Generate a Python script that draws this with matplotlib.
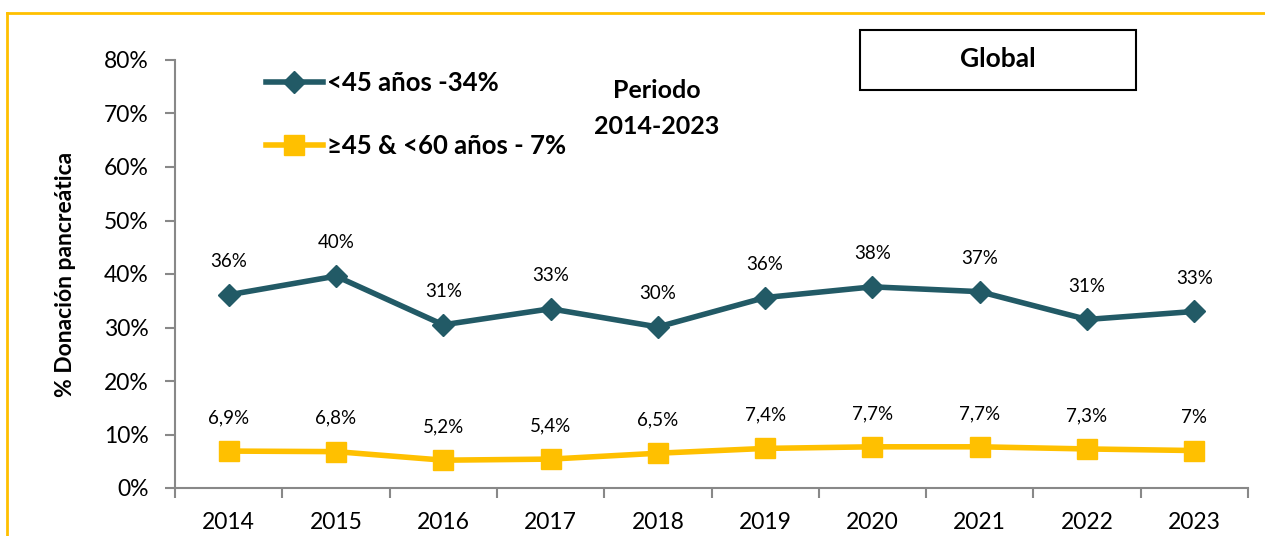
import matplotlib
matplotlib.use("Agg")
import matplotlib.pyplot as plt
from matplotlib.lines import Line2D
from matplotlib.patches import Rectangle

plt.rcParams['font.family'] = ['Lato', 'DejaVu Sans']

years = ['2014', '2015', '2016', '2017', '2018', '2019', '2020', '2021', '2022', '2023']
menor45 = [36.1, 39.6, 30.5, 33.5, 30.1, 35.6, 37.6, 36.7, 31.5, 33.0]
menor45_lbl = ['36%', '40%', '31%', '33%', '30%', '36%', '38%', '37%', '31%', '33%']
entre45_60 = [6.9, 6.8, 5.2, 5.4, 6.5, 7.4, 7.7, 7.7, 7.3, 7.0]
entre45_60_lbl = ['6,9%', '6,8%', '5,2%', '5,4%', '6,5%', '7,4%', '7,7%', '7,7%', '7,3%', '7%']
yticks = [0, 10, 20, 30, 40, 50, 60, 70, 80]

dark = '#225A66'
gold = '#FFC000'

fig = plt.figure(figsize=(12.65, 5.36), dpi=100)
ax = fig.add_axes([175/1265, 1-488/536, (1248-175)/1265, (488-60)/536])

x = list(range(len(years)))
ax.plot(x, menor45, color=dark, lw=4, marker='D', ms=11, solid_capstyle='round')
ax.plot(x, entre45_60, color=gold, lw=4, marker='s', ms=14)

for i in x:
    ax.annotate(menor45_lbl[i], (i, menor45[i]), xytext=(0, 24), textcoords='offset points',
                ha='center', va='center', fontsize=13.5)
    ax.annotate(entre45_60_lbl[i], (i, entre45_60[i]), xytext=(0, 24), textcoords='offset points',
                ha='center', va='center', fontsize=13.5)

ax.set_xlim(-0.5, len(years) - 0.5)
ax.set_ylim(0, 80)
ax.set_yticks(yticks)
ax.set_yticklabels([f'{v}%' for v in yticks], fontsize=16.5)
ax.set_xticks(x)
ax.set_xticklabels(years, fontsize=16.5)
ax.set_xticks([i - 0.5 for i in range(len(years) + 1)], minor=True)
ax.tick_params(axis='x', which='major', length=0, pad=17)
ax.tick_params(axis='x', which='minor', length=7, color='#888888', width=1.5)
ax.tick_params(axis='y', length=7, color='#888888', width=1.5, pad=12)
for s in ['top', 'right']:
    ax.spines[s].set_visible(False)
for s in ['left', 'bottom']:
    ax.spines[s].set_color('#888888')
    ax.spines[s].set_linewidth(1.5)
ax.set_ylabel('% Donación pancreática', fontsize=16.5, fontweight='bold', labelpad=20)

handles = [Line2D([], [], color=dark, lw=4, marker='D', ms=11),
           Line2D([], [], color=gold, lw=4, marker='s', ms=14)]
fig.legend(handles, ['<45 años -34%', '≥45 & <60 años - 7%'], loc='upper left',
           bbox_to_anchor=(243/1265, 1-48/536), frameon=False, handlelength=2.2,
           handletextpad=0.15, labelspacing=1.5, prop={'size': 18.5, 'weight': 'bold'})

fig.text(657/1265, 1-90/536, 'Periodo', ha='center', va='center', fontsize=18, fontweight='bold')
fig.text(657/1265, 1-127/536, '2014-2023', ha='center', va='center', fontsize=18, fontweight='bold')

fig.patches.append(Rectangle((860/1265, 1-90/536), 276/1265, 60/536, transform=fig.transFigure,
                             fill=False, edgecolor='black', lw=1.5))
fig.text(998/1265, 1-59/536, 'Global', ha='center', va='center', fontsize=19, fontweight='bold')

fig.add_artist(Line2D([7/1265, 1], [1-13/536, 1-13/536], color=gold, lw=2, transform=fig.transFigure))
fig.add_artist(Line2D([7/1265, 7/1265], [0, 1-13/536], color=gold, lw=2, transform=fig.transFigure))

fig.savefig('out.png', dpi=100)
